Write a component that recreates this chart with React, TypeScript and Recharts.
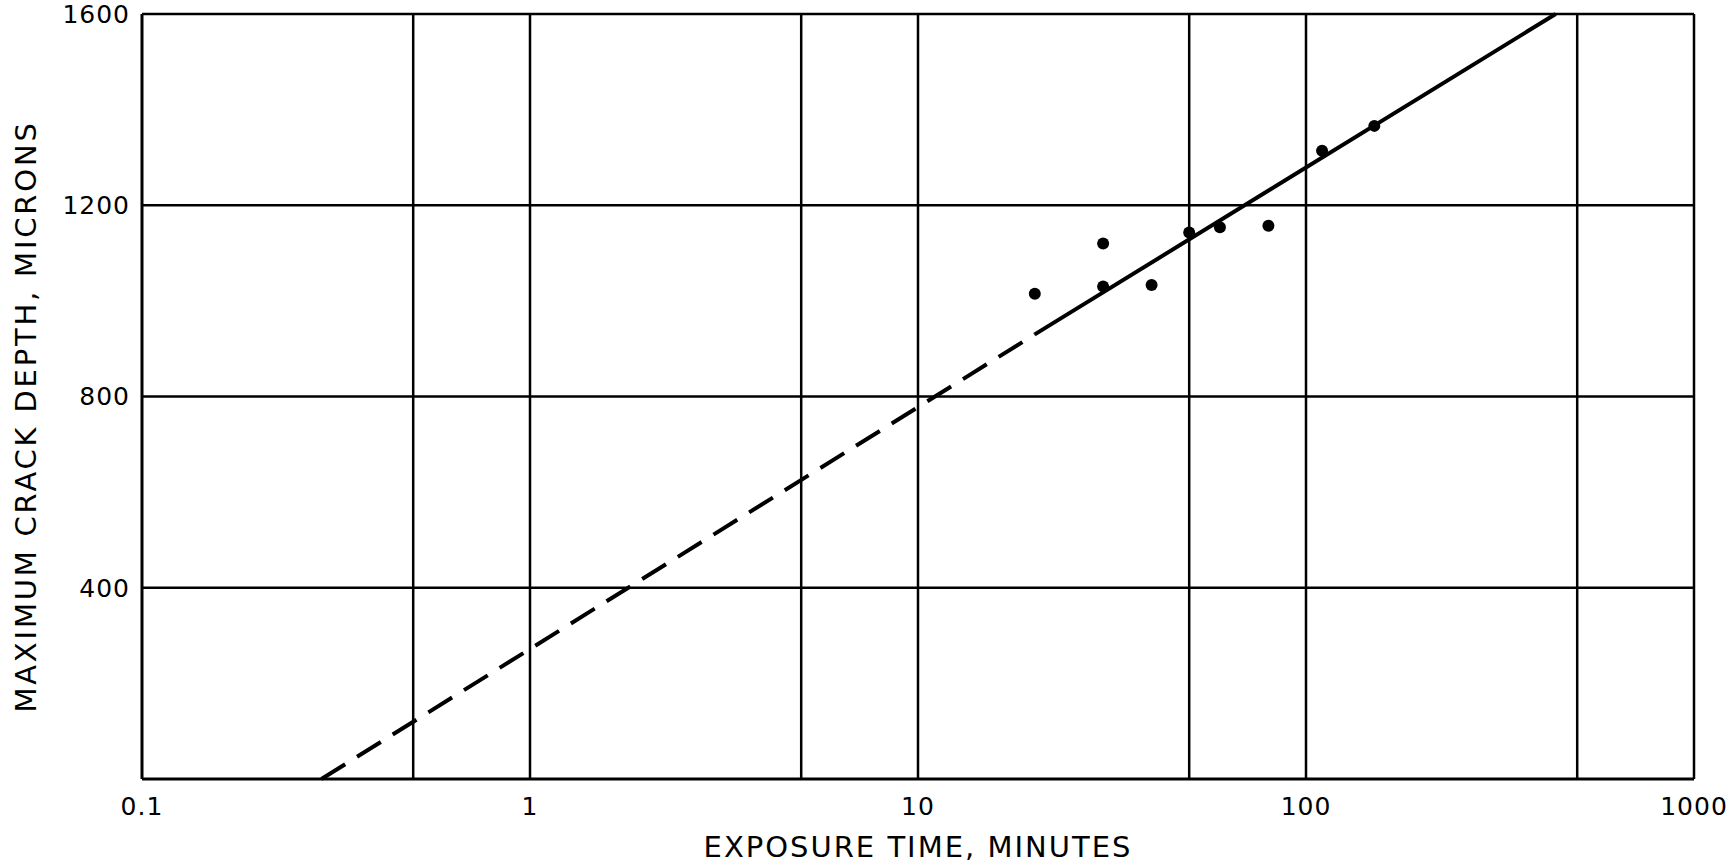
import {
  ComposedChart,
  Line,
  Scatter,
  XAxis,
  YAxis,
  ReferenceLine,
} from "recharts";

// measured points: exposure time (min) vs max crack depth (microns)
const exposureTimes = [20, 30, 30, 40, 50, 60, 80, 110, 150];
const crackDepths = [1015, 1120, 1030, 1033, 1143, 1154, 1157, 1314, 1366];

// fitted line, dashed where extrapolated
const dashedFit = [
  { x: 0.29, y: 0 },
  { x: 20, y: 930 },
];
const solidFit = [
  { x: 20, y: 930 },
  { x: 440, y: 1600 },
];

const xTicks = [0.1, 1, 10, 100, 1000];
const yTicks = [400, 800, 1200, 1600];
const xGrid = [0.5, 1, 5, 10, 50, 100, 500, 1000];
const yGrid = [400, 800, 1200, 1600];

const points = exposureTimes.map((x, i) => ({ x, y: crackDepths[i] }));

const font = "'DejaVu Sans', sans-serif";

// y-axis title, rotated and centred on the plot height
function YTitle({ viewBox }: any) {
  const cx = 26;
  const cy = viewBox.y + viewBox.height / 2 + 20;
  return (
    <text
      x={cx}
      y={cy}
      transform={`rotate(-90 ${cx} ${cy})`}
      textAnchor="middle"
      dominantBaseline="central"
      fill="#000"
      fontSize={29}
      fontFamily={font}
      letterSpacing={2.8}
    >
      MAXIMUM CRACK DEPTH, MICRONS
    </text>
  );
}

export default function App() {
  return (
    <div style={{ position: "absolute", left: 0, top: 0, background: "#fff" }}>
      <ComposedChart
        width={1733}
        height={863}
        margin={{ top: 14, right: 39, left: 0, bottom: 0 }}
      >
        <XAxis
          dataKey="x"
          type="number"
          scale="log"
          domain={[0.1, 1000]}
          allowDataOverflow
          ticks={xTicks}
          tickFormatter={(v) => String(v)}
          height={84}
          tickSize={0}
          tickMargin={18}
          stroke="#000"
          strokeWidth={3}
          tick={{ fill: "#000", fontSize: 25, fontFamily: font, letterSpacing: 1 }}
          label={{
            value: "EXPOSURE TIME, MINUTES",
            position: "insideBottom",
            offset: 6,
            fill: "#000",
            fontSize: 29,
            fontFamily: font,
            letterSpacing: 2,
          }}
        />
        <YAxis
          type="number"
          domain={[0, 1600]}
          ticks={yTicks}
          width={142}
          tickSize={0}
          tickMargin={12}
          stroke="#000"
          strokeWidth={3}
          tick={{ fill: "#000", fontSize: 25, fontFamily: font, letterSpacing: 1 }}
          label={{ content: YTitle }}
        />
        {xGrid.map((v) => (
          <ReferenceLine key={"vx" + v} x={v} stroke="#000" strokeWidth={2.5} />
        ))}
        {yGrid.map((v) => (
          <ReferenceLine key={"hy" + v} y={v} stroke="#000" strokeWidth={2.5} />
        ))}
        <Line
          data={dashedFit}
          dataKey="y"
          stroke="#000"
          strokeWidth={4}
          strokeDasharray="28 14"
          dot={false}
          activeDot={false}
          isAnimationActive={false}
        />
        <Line
          data={solidFit}
          dataKey="y"
          stroke="#000"
          strokeWidth={4}
          dot={false}
          activeDot={false}
          isAnimationActive={false}
        />
        <Scatter
          data={points}
          dataKey="y"
          isAnimationActive={false}
          shape={(p: any) => <circle cx={p.cx} cy={p.cy} r={6} fill="#000" />}
        />
      </ComposedChart>
    </div>
  );
}
